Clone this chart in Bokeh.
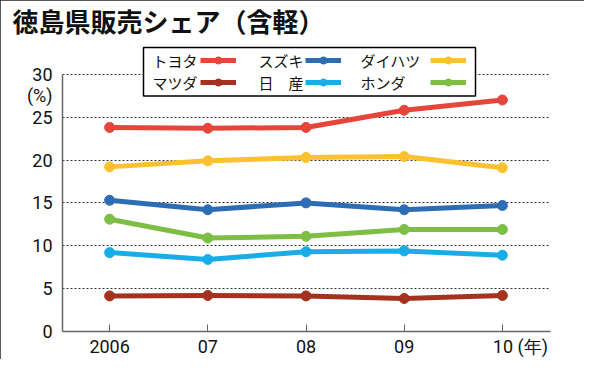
from bokeh.plotting import figure
from bokeh.models import Legend, LegendItem, FixedTicker, Range1d, BoxAnnotation, Label
from bokeh.embed import file_html
from bokeh.resources import INLINE

# ---- data ----
years = [2006, 2007, 2008, 2009, 2010]
year_labels = ["2006", "07", "08", "09", "\u3000\u300010 (年)"]
y_ticks = [0, 5, 10, 15, 20, 25, 30]
y_unit_label = "(%)"

toyota = [23.8, 23.7, 23.8, 25.8, 27.0]
suzuki = [15.3, 14.2, 15.0, 14.2, 14.7]
daihatsu = [19.2, 19.9, 20.3, 20.4, 19.1]
mazda = [4.15, 4.2, 4.15, 3.85, 4.2]
nissan = [9.2, 8.4, 9.3, 9.4, 8.9]
honda = [13.1, 10.9, 11.1, 11.9, 11.9]

names = ["トヨタ", "スズキ", "ダイハツ", "マツダ", "日　産", "ホンダ"]
series = [toyota, suzuki, daihatsu, mazda, nissan, honda]
colors = ["#e6453b", "#2d6db4", "#fbc130", "#a5321f", "#18ade6", "#7dbe45"]

title_text = "徳島県販売シェア（含軽）"

# ---- layout ----
W, H = 584, 359
border_l, border_r, border_t, border_b = 62, 34, 40, 26
frame_w = W - border_l - border_r          # 488
frame_h = H - border_t - border_b          # 293
axis_h = 259                               # pixels from 0 to 30
ppu = axis_h / 30
x_start, x_end = 2005.52, 2010.49
ppx = frame_w / (x_end - x_start)
y_start = 0
y_end = frame_h / ppu                      # frame extends above 30 for the legend
unit_pos = 30 - 21 / ppu                   # where "(%)" sits on the y axis
frame_bottom = H - border_b                # canvas y of the frame bottom


def data_x(px):
    return x_start + (px - border_l) / ppx


def data_y(py):
    return (frame_bottom - py) / ppu


JP = "Noto Sans CJK JP"
NUM = "Roboto"

p = figure(width=W, height=H, output_backend="svg", toolbar_location=None,
           x_range=Range1d(x_start, x_end), y_range=Range1d(y_start, y_end),
           min_border_left=border_l, min_border_right=border_r,
           min_border_top=border_t, min_border_bottom=border_b)
p.outline_line_color = None
p.background_fill_color = "white"
p.border_fill_color = "white"
p.styles = {"outline": "2px solid #222222", "outline-offset": "-2px"}

p.title.text = title_text
p.title.align = "left"
p.title.vertical_align = "top"
p.title.standoff = 0
p.title.offset = -50
p.title.text_font = JP
p.title.text_font_style = "bold"
p.title.text_font_size = "26px"
p.title.text_color = "#111111"

p.xaxis.ticker = FixedTicker(ticks=years)
p.xaxis.major_label_overrides = {y: l for y, l in zip(years, year_labels)}
p.yaxis.ticker = FixedTicker(ticks=y_ticks + [unit_pos])
p.yaxis.major_label_overrides = {unit_pos: y_unit_label}
p.yaxis.bounds = (0, 30)
p.axis.minor_tick_line_color = None
p.axis.axis_line_color = "#666666"
p.axis.axis_line_width = 1.5
p.axis.major_label_text_font = NUM
p.axis.major_label_text_font_size = "18px"
p.axis.major_label_text_color = "#111111"
p.xaxis.major_tick_in = 7
p.xaxis.major_tick_out = 0
p.xaxis.major_tick_line_color = "#666666"
p.xaxis.major_label_standoff = 4
p.yaxis.major_tick_in = 0
p.yaxis.major_tick_out = 0
p.yaxis.major_label_standoff = 10

p.xgrid.visible = False
p.ygrid.ticker = FixedTicker(ticks=y_ticks)
p.ygrid.grid_line_color = "#333333"
p.ygrid.grid_line_dash = "2 2"
p.ygrid.grid_line_width = 1

rends = []
for vals, c in zip(series, colors):
    r1 = p.line(years, vals, line_width=5, line_color=c, line_join="round")
    r2 = p.scatter(years, vals, size=10, fill_color=c, line_color=c)
    rends.append([r1, r2])

# legend frame (white box with black border), overlapping the top of the plot
box_l, box_r, box_t, box_b = 143, 475, 47, 96   # canvas pixels
p.add_layout(BoxAnnotation(left=data_x(box_l), right=data_x(box_r),
                           top=data_y(box_t), bottom=data_y(box_b),
                           fill_color="white", fill_alpha=1.0,
                           line_color="black", line_width=1.5, line_alpha=1.0))

# legend: name text first, then the line-and-dot swatch (one column each)
col_text_x = [152, 258, 360]
col_glyph_x = [200, 305, 430]
row_y = [60, 82]
for col in range(3):
    col_items = []
    for row in range(2):
        k = row * 3 + col
        col_items.append(LegendItem(label=" ", renderers=rends[k]))
        p.add_layout(Label(x=data_x(col_text_x[col]), y=data_y(row_y[row]),
                           text=names[k], text_font=JP, text_font_size="15px",
                           text_color="#111111", text_align="left",
                           text_baseline="middle"))
    leg = Legend(items=col_items,
                 location=(col_glyph_x[col] - border_l, frame_bottom - row_y[1] - 11),
                 orientation="vertical",
                 label_text_font_size="1px",
                 glyph_width=36, glyph_height=18, label_height=18, label_width=0,
                 label_standoff=0, spacing=4, padding=0, margin=0,
                 border_line_color=None, background_fill_alpha=0.0)
    p.add_layout(leg, "center")

open("out.html", "w").write(file_html(p, INLINE))
